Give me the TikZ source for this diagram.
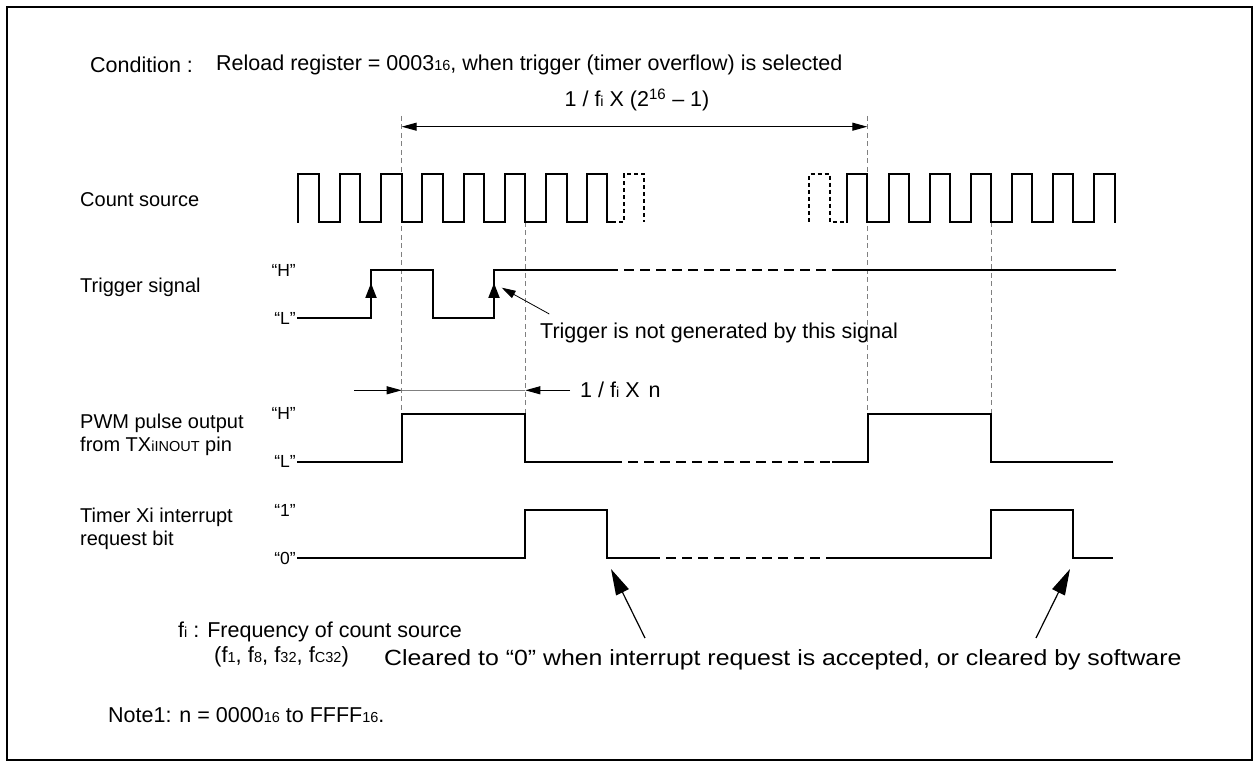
\documentclass[tikz,border=0pt]{standalone}
\usepackage{fontspec}
\setmainfont{Liberation Sans}
\usetikzlibrary{arrows.meta}
\newcommand\sm[1]{{\fontsize{14.5}{14.5}\selectfont #1}}
\begin{document}
\begin{tikzpicture}[x=1pt,y=-1pt,
  sig/.style={line width=2pt, line join=miter, line cap=rect},
  sigd/.style={line width=2pt, dash pattern=on 10pt off 6pt},
  clkd/.style={line width=2pt, dash pattern=on 4pt off 3pt},
  guide/.style={gray, line width=1pt, dash pattern=on 5pt off 3.5pt},
  lbl/.style={inner sep=0pt, anchor=west, font=\fontsize{20}{23}\selectfont, align=left},
  big/.style={lbl, font=\fontsize{21.5}{24}\selectfont},
  lvl/.style={inner sep=0pt, anchor=east, font=\fontsize{17.5}{17.5}\selectfont},
  dimarr/.style={line width=1pt, -{Triangle[length=15pt,width=8pt]}},
  trig/.style={-{Triangle[length=15pt,width=11pt]}, line width=2pt},
  clr/.style={line width=1.2pt, -{Triangle[length=26pt,width=14pt]}},
  note/.style={line width=0.8pt, -{Triangle[length=14pt,width=8pt]}}]
\useasboundingbox (0,0) rectangle (1259,767);
\draw[line width=1.5pt] (7,7) rectangle (1252,760);

% texts
\node[big] (cond) at (90,65) {Condition :};
\node[big] (reload) at (216,65) {Reload register = 0003\sm{16}, when trigger (timer overflow) is selected};
\node[big, anchor=center] (period) at (637,100) {1 / f\sm{i} X (2\textsuperscript{16} -- 1)};
\node[lbl] (cs) at (80,200) {Count source};
\node[lbl] (ts) at (80,287) {Trigger signal};
\node[lbl] (pwm) at (80,435) {PWM pulse output\\from TX\sm{iINOUT} pin};
\node[lbl] (tir) at (80,529) {Timer Xi interrupt\\request bit};
\node[lvl] (tH) at (296,270) {“H”};
\node[lvl] (tL) at (296,318) {“L”};
\node[lvl] (pH) at (296,413) {“H”};
\node[lvl] (pL) at (296,461) {“L”};
\node[lvl] (i1) at (296,510) {“1”};
\node[lvl] (i0) at (296,558) {“0”};
\node[big] (notgen) at (540,333) {Trigger is not generated by this signal};
\node[big] (nlen) at (580,390) {1 / f\sm{i} X\hspace{9pt}n};
\node[big] (fi) at (178,632) {f\sm{i} : Frequency of count source};
\node[big, font=\fontsize{22}{24}\selectfont] (fl) at (214,657) {(f\sm{1}, f\sm{8}, f\sm{32}, f\sm{C32})};
\node[lbl, font=\fontsize{22}{24}\selectfont] (clrtxt) at (384,660) {\scalebox{1.13}[1]{Cleared to “0” when interrupt request is accepted, or cleared by software}};
\node[big] (note1) at (108,715) {Note1: n = 0000\sm{16} to FFFF\sm{16}.};

% guides
\draw[guide] (401.7,116) -- (401.7,413);
\draw[guide] (867.3,116) -- (867.3,413);
\draw[guide] (525.3,222) -- (525.3,413);
\draw[guide] (991,222) -- (991,413);

% period dimension
\coordinate (pa) at (401.7,126.7);
\coordinate (pb) at (867.3,126.7);
\draw[dimarr] (635,126.7) -- (pa);
\draw[dimarr] (635,126.7) -- (pb);

% count source
\draw[sig] (298,221.7)
  \foreach \r/\f in {298/319.3,340/360.3,381/401.7,422.3/443.3,463.7/484.3,505.3/525.3,546.3/567,587.3/607.3}
  { -- (\r,221.7) -- (\r,174) -- (\f,174) -- (\f,221.7) } -- (612,221.7);
\draw[clkd] (612,221.7) -- (624,221.7) -- (624,174) -- (644,174) -- (644,221.7);
\draw[clkd] (809.3,221.7) -- (809.3,174) -- (830,174) -- (830,221.7) -- (846.7,221.7);
\draw[sig] (846.7,221.7)
  \foreach \r/\f in {846.7/867.3,888.7/908.7,929.7/950,971/991,1011.7/1032.3,1052.7/1073.3,1094/1115}
  { -- (\r,221.7) -- (\r,174) -- (\f,174) -- (\f,221.7) };

% trigger
\draw[sig] (297.5,318.3) -- (371,318.3) -- (371,270) -- (432.7,270) -- (432.7,318.3) -- (494,318.3) -- (494,270) -- (608,270);
\draw[sigd] (608,270) -- (835,270);
\draw[sig] (835,270) -- (1115,270);
\draw[trig] (371,300) -- (371,283);
\draw[trig] (494,300) -- (494,283);
\coordinate (ngtail) at (549.3,314);
\coordinate (ngtip) at (501.7,287.7);
\draw[note] (ngtail) -- (ngtip);

% n dimension
\coordinate (na) at (401.7,390.3);
\coordinate (nb) at (525.3,390.3);
\draw[gray, line width=1pt] (na) -- (nb);
\draw[dimarr] (354,390.3) -- (na);
\draw[dimarr] (570,390.3) -- (nb);

% PWM
\draw[sig] (297.5,461.7) -- (401.7,461.7) -- (401.7,413.5) -- (525.3,413.5) -- (525.3,461.7) -- (612,461.7);
\draw[sigd] (612,461.7) -- (833,461.7);
\draw[sig] (833,461.7) -- (867.5,461.7) -- (867.5,413.5) -- (991,413.5) -- (991,461.7) -- (1112,461.7);

% interrupt
\draw[sig] (297.5,558) -- (525.3,558) -- (525.3,509.5) -- (607.3,509.5) -- (607.3,558) -- (650,558);
\draw[sigd] (650,558) -- (832,558);
\draw[sig] (832,558) -- (991,558) -- (991,509.5) -- (1073.3,509.5) -- (1073.3,558) -- (1112,558);

% cleared arrows
\coordinate (c1tail) at (645,638);
\coordinate (c1tip) at (611,569);
\coordinate (c2tail) at (1036,638);
\coordinate (c2tip) at (1070,569);
\draw[clr] (c1tail) -- (c1tip);
\draw[clr] (c2tail) -- (c2tip);
\end{tikzpicture}
\end{document}
